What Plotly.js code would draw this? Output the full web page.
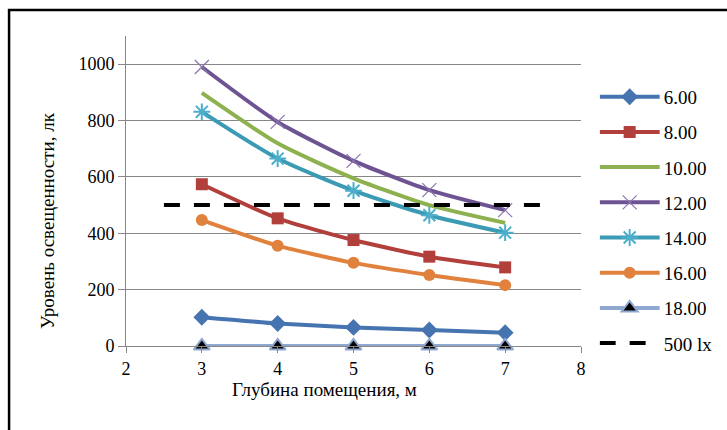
<!DOCTYPE html>
<html>
<head>
<meta charset="utf-8">
<script src="https://cdn.plot.ly/plotly-3.0.1.min.js"></script>
<style>
  html, body { margin: 0; padding: 0; background: #fff; font-family: 'Liberation Serif', serif; }
  #chart { width: 727px; height: 430px; }
  #chart .main-svg text { font-family: 'Liberation Serif', serif !important; }
</style>
</head>
<body>
<div id="chart"></div>
<script>
// Room depth, m
const depth = [3, 4, 5, 6, 7];

// Illuminance (lx) at each depth, one series per hour of the day
const seriesNames = ['6.00', '8.00', '10.00', '12.00', '14.00', '16.00', '18.00'];
const lux0600 = [102, 80, 66, 57, 47];
const lux0800 = [574, 453, 376, 317, 279];
const lux1000 = [898, 719, 595, 500, 437];
const lux1200 = [990, 795, 657, 553, 482];
const lux1400 = [831, 665, 551, 464, 402];
const lux1600 = [447, 356, 295, 252, 216];
const lux1800 = [0, 0, 0, 0, 0];

// Required illuminance level
const normName = '500 lx';
const normX = [2.5, 7.5];
const normY = [500, 500];

const serif = 'Liberation Serif';

function series(name, y, color, marker) {
  const t = {
    x: depth, y: y, name: name, legendgroup: name,
    type: 'scatter', mode: marker ? 'lines+markers' : 'lines',
    cliponaxis: false,
    line: { color: color, width: 4, shape: 'spline', smoothing: 0.6 }
  };
  if (marker) t.marker = marker;
  return t;
}

const traces = [
  series(seriesNames[0], lux0600, '#4674B0', { symbol: 'diamond', size: 13, color: '#4674B0' }),
  series(seriesNames[1], lux0800, '#B1403D', { symbol: 'square', size: 12, color: '#B1403D' }),
  series(seriesNames[2], lux1000, '#8DB14F', null),
  series(seriesNames[3], lux1200, '#6E5393', { symbol: 'x-thin-open', size: 14, color: '#8B75AE', line: { width: 1.2, color: '#8B75AE' } }),
  series(seriesNames[4], lux1400, '#3B9AB4', { symbol: 'asterisk-open', size: 14, color: '#4BAFCB', line: { width: 2, color: '#4BAFCB' } }),
  series(seriesNames[5], lux1600, '#E0823D', { symbol: 'circle', size: 12, color: '#E0823D' }),
  series(seriesNames[6], lux1800, '#8FA8D0', { symbol: 'triangle-up', size: 14, color: '#000000', line: { width: 2, color: '#8FA8D0' } }),
  {
    x: normX, y: normY, name: normName, legendgroup: normName,
    type: 'scatter', mode: 'lines',
    line: { color: '#000000', width: 4, dash: '16px,14px' }
  }
];

const gridGray = '#878787';

const layout = {
  width: 727, height: 430,
  paper_bgcolor: '#ffffff', plot_bgcolor: '#ffffff',
  margin: { l: 126, r: 146, t: 36, b: 84, autoexpand: false },
  showlegend: true,
  legend: {
    x: 1.041, xanchor: 'left', y: 0.865, yanchor: 'top',
    font: { family: serif, size: 19, color: '#000' },
    tracegroupgap: 7.5, itemwidth: 54,
    bgcolor: 'rgba(0,0,0,0)'
  },
  xaxis: {
    range: [2, 8], dtick: 1, tick0: 2,
    showgrid: false, zeroline: false,
    showline: true, linecolor: gridGray, linewidth: 1,
    ticks: 'outside', ticklen: 6, tickcolor: gridGray,
    tickfont: { family: serif, size: 18, color: '#000' }
  },
  yaxis: {
    range: [0, 1100], tickvals: [0, 200, 400, 600, 800, 1000],
    showgrid: true, gridcolor: gridGray, gridwidth: 1,
    zeroline: false,
    showline: true, linecolor: gridGray, linewidth: 1,
    ticks: 'outside', ticklen: 7, tickcolor: gridGray,
    tickfont: { family: serif, size: 18, color: '#000' }
  },
  annotations: [
    {
      text: 'Уровень освещенности, лк', textangle: -90,
      xref: 'paper', yref: 'paper', x: -0.174, y: 0.406,
      xanchor: 'center', yanchor: 'middle', showarrow: false,
      font: { family: serif, size: 19, color: '#000' }
    },
    {
      text: 'Глубина помещения, м',
      xref: 'paper', yref: 'paper', x: 0.437, y: -0.139,
      xanchor: 'center', yanchor: 'middle', showarrow: false,
      font: { family: serif, size: 19, color: '#000' }
    }
  ],
  shapes: [
    {
      type: 'rect', xref: 'paper', yref: 'paper',
      x0: -0.257, x1: 1.5, y0: -0.5, y1: 1.084,
      line: { color: '#000', width: 2.5 }, fillcolor: 'rgba(0,0,0,0)', layer: 'below'
    }
  ]
};

// Legend swatches: stretch each sample line to 60px and centre its marker on it
function widenLegendSwatches(gd) {
  gd.querySelectorAll('.legend .traces').forEach(function (item) {
    item.querySelectorAll('.legendlines path').forEach(function (p) {
      p.setAttribute('d', 'M0,0h60');
    });
    item.querySelectorAll('.legendpoints path').forEach(function (p) {
      p.setAttribute('transform', 'translate(30,0)');
    });
  });
}

function draw() {
  return Plotly.newPlot('chart', traces, layout, { displayModeBar: false, staticPlot: true })
    .then(widenLegendSwatches);
}

// Make sure the serif face is ready before Plotly measures its text
if (document.fonts && document.fonts.load) {
  document.fonts.load('18px "Liberation Serif"', 'Уровень 1000').then(draw, draw);
} else {
  draw();
}
</script>
</body>
</html>
